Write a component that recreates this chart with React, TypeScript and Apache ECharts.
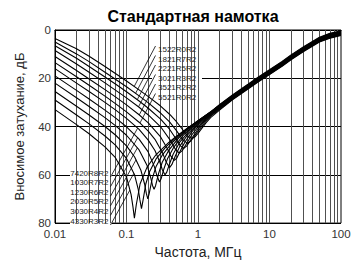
import React, { useEffect, useRef } from "react";
import * as echarts from "echarts";

type Pt = [number, number];

const chartTitle = "Стандартная намотка";
const xName = "Частота, МГц";
const yName = "Вносимое затухание, дБ";
const xTicks = [0.01, 0.1, 1, 10, 100];
const yTicks = [0, 20, 40, 60, 80];
const gridFreqs = [
  0.02, 0.03, 0.04, 0.05, 0.06, 0.07, 0.08, 0.09, 0.1,
  0.2, 0.3, 0.4, 0.5, 0.6, 0.7, 0.8, 0.9, 1,
  2, 3, 4, 5, 6, 7, 8, 9, 10,
  20, 30, 40, 50, 60, 70, 80, 90,
];

const topLabels = ["1522R0R2", "1821R7R2", "2221R5R2", "3021R3R2", "3521R2R2", "5521R0R2"];
const bottomLabels = ["7420R8R2", "1030R7R2", "1230R6R2", "2030R5R2", "3030R4R2", "4330R3R2"];

const c0: Pt[] = [[0.01,3.5],[0.02,7.8],[0.03,10.9],[0.05,15.1],[0.07,18.0],[0.1,21.1],[0.15,24.8],[0.2,27.5],[0.3,31.5],[0.4,34.9],[0.5,38.0],[0.6,41.0],[0.71,43.8],[0.816,45.0],[0.914,44.2],[1,42.8],[1.3,38.4],[1.5,36.3],[2,33.2],[3,29.0],[5,24.5],[7,21.5],[10,18.5],[15,15.0],[20,12.3],[30,8.9],[50,5.0],[70,3.4],[100,2.3]];
const c1: Pt[] = [[0.01,5.0],[0.02,9.9],[0.03,13.1],[0.05,17.5],[0.07,20.4],[0.1,23.5],[0.15,27.3],[0.2,30.1],[0.3,34.4],[0.4,38.1],[0.5,41.7],[0.6035,45.2],[0.71,47.0],[0.795,46.0],[1,41.9],[1.3,37.7],[1.5,35.7],[2,32.9],[3,28.8],[5,24.3],[7,21.3],[10,18.3],[15,14.8],[20,12.1],[30,8.7],[50,4.8],[70,3.2],[100,2.1]];
const c2: Pt[] = [[0.01,6.5],[0.02,11.7],[0.03,15.1],[0.05,19.5],[0.07,22.4],[0.1,25.6],[0.15,29.4],[0.2,32.3],[0.3,36.9],[0.4,41.1],[0.505,45.6],[0.568,48.0],[0.631,49.0],[0.694,48.1],[0.789,45.6],[1,41.0],[1.3,37.1],[1.5,35.4],[2,32.5],[3,28.6],[5,24.1],[7,21.1],[10,18.1],[15,14.6],[20,11.9],[30,8.5],[50,4.6],[70,3.0],[100,1.9]];
const c3: Pt[] = [[0.01,8.5],[0.02,14.1],[0.03,17.5],[0.05,21.9],[0.07,24.9],[0.1,28.1],[0.15,32.0],[0.2,35.1],[0.3,40.1],[0.411,45.7],[0.482,49.4],[0.548,51.0],[0.603,50.0],[0.685,47.2],[0.822,43.4],[1,40.1],[1.5,35.0],[2,32.2],[3,28.5],[5,24.0],[7,21.0],[10,18.0],[15,14.5],[20,11.8],[30,8.4],[50,4.5],[70,2.9],[100,1.8]];
const c4: Pt[] = [[0.01,11.0],[0.02,16.8],[0.03,20.3],[0.05,24.7],[0.07,27.7],[0.1,31.0],[0.15,35.1],[0.2,38.4],[0.3,44.3],[0.374,49.2],[0.42,52.4],[0.467,54.0],[0.504,53.1],[0.56,50.3],[0.654,46.5],[0.841,41.8],[1,39.4],[1.5,34.8],[2,32.0],[3,28.3],[5,23.8],[7,20.8],[10,17.8],[15,14.3],[20,11.6],[30,8.2],[50,4.3],[70,2.7],[100,1.6]];
const c5: Pt[] = [[0.01,13.5],[0.02,19.4],[0.03,22.9],[0.05,27.4],[0.07,30.5],[0.1,33.9],[0.15,38.2],[0.2,41.8],[0.25,45.3],[0.32,51.0],[0.36,54.8],[0.4,57.0],[0.432,55.7],[0.48,52.3],[0.56,48.0],[0.72,43.3],[1,38.9],[1.5,34.5],[2,31.8],[3,28.1],[5,23.6],[7,20.6],[10,17.6],[15,14.1],[20,11.4],[30,8.0],[50,4.1],[70,2.5],[100,1.4]];
const c6: Pt[] = [[0.01,16.0],[0.02,22.0],[0.03,25.5],[0.05,30.0],[0.07,33.1],[0.1,36.6],[0.15,41.2],[0.2,45.5],[0.25,49.9],[0.293,54.8],[0.317,57.9],[0.345,60.0],[0.366,58.9],[0.397,55.7],[0.449,51.5],[0.552,46.6],[0.759,41.8],[1,38.5],[1.5,34.4],[2,31.6],[3,27.9],[5,23.4],[7,20.4],[10,17.4],[15,13.9],[20,11.2],[30,7.8],[50,3.9],[70,2.3],[100,1.2]];
const c7: Pt[] = [[0.01,19.0],[0.02,25.0],[0.03,28.6],[0.05,33.2],[0.07,36.4],[0.1,40.1],[0.15,45.2],[0.2,50.4],[0.246,56.7],[0.266,60.3],[0.289,63.0],[0.306,61.5],[0.332,57.7],[0.376,53.2],[0.462,48.4],[0.636,43.3],[1,38.2],[1.5,34.2],[2,31.5],[3,27.7],[5,23.2],[7,20.2],[10,17.2],[15,13.7],[20,11.0],[30,7.6],[50,3.7],[70,2.1],[100,1.0]];
const c8: Pt[] = [[0.01,22.0],[0.02,28.1],[0.03,31.7],[0.05,36.3],[0.07,39.6],[0.1,43.6],[0.15,49.7],[0.194,56.1],[0.219,61.4],[0.231,64.4],[0.243,66.0],[0.255,64.5],[0.28,59.6],[0.316,54.8],[0.389,49.9],[0.535,44.8],[0.7,41.6],[1,37.9],[1.5,34.1],[2,31.3],[3,27.6],[5,23.1],[7,20.1],[10,17.1],[15,13.6],[20,10.9],[30,7.5],[50,3.6],[70,2.0],[100,0.9]];
const c9: Pt[] = [[0.01,25.5],[0.02,31.6],[0.03,35.2],[0.05,40.0],[0.07,43.5],[0.1,48.0],[0.13,52.6],[0.159,58.1],[0.179,63.8],[0.189,67.6],[0.1985,70.0],[0.208,67.7],[0.228,61.8],[0.258,56.7],[0.318,51.7],[0.437,46.6],[0.7,41.2],[1,37.7],[1.5,34.0],[2,31.2],[3,27.4],[5,22.9],[7,19.9],[10,16.9],[15,13.4],[20,10.7],[30,7.3],[50,3.4],[70,1.8],[100,0.7]];
const c10: Pt[] = [[0.01,29.0],[0.02,35.2],[0.03,38.9],[0.05,43.9],[0.07,47.7],[0.1,53.2],[0.13,60.1],[0.146,66.0],[0.154,70.4],[0.162,74.0],[0.17,70.7],[0.186,63.8],[0.211,58.6],[0.259,53.4],[0.356,48.4],[0.5,44.4],[0.7,41.0],[1,37.6],[1.5,34.0],[2,31.0],[3,27.2],[5,22.7],[7,19.7],[10,16.7],[15,13.2],[20,10.5],[30,7.1],[50,3.2],[70,1.6],[100,0.5]];
const c11: Pt[] = [[0.01,33.0],[0.02,39.2],[0.03,43.0],[0.05,48.4],[0.07,52.9],[0.1,60.9],[0.116,68.2],[0.123,73.2],[0.129,78.0],[0.137,72.4],[0.155,63.7],[0.194,56.8],[0.258,51.7],[0.387,46.7],[0.5,44.0],[0.7,40.8],[1,37.6],[1.5,33.9],[2,30.9],[3,27.0],[5,22.5],[7,19.5],[10,16.5],[15,13.0],[20,10.3],[30,6.9],[50,3.0],[70,1.4],[100,0.3]];

const curves: Pt[][] = [c0, c1, c2, c3, c4, c5, c6, c7, c8, c9, c10, c11];
const curveNames = [...topLabels, ...bottomLabels];

const FONT = "Liberation Sans, Arial, Helvetica, sans-serif";

function fmtTick(v: number): string {
  return String(Number(v.toPrecision(6)));
}

function rayHit(anchor: number[], dir: number[], pts: number[][]): number[] | null {
  let best = Infinity;
  let bp: number[] | null = null;
  for (let k = 0; k < pts.length - 1; k++) {
    const [x1, y1] = pts[k];
    const [x2, y2] = pts[k + 1];
    const ex = x2 - x1, ey = y2 - y1;
    const den = dir[0] * ey - dir[1] * ex;
    if (Math.abs(den) < 1e-9) continue;
    const wx = x1 - anchor[0], wy = y1 - anchor[1];
    const t = (wx * ey - wy * ex) / den;
    const s = (wx * dir[1] - wy * dir[0]) / den;
    if (t > 0 && s >= 0 && s <= 1 && t < best) {
      best = t;
      bp = [anchor[0] + t * dir[0], anchor[1] + t * dir[1]];
    }
  }
  return bp;
}

export default function App() {
  const ref = useRef<HTMLDivElement>(null);

  useEffect(() => {
    document.body.style.margin = "0";
    const el = ref.current!;
    const chart = echarts.init(el, null, { renderer: "svg" });

    const series: any[] = curves.map((d, i) => ({
      type: "line",
      name: curveNames[i],
      data: d,
      symbol: "none",
      showSymbol: false,
      silent: true,
      z: 5,
      lineStyle: { color: "#000", width: 1.1 },
    }));
    series.push({
      type: "line",
      name: "grid",
      data: [[1, 0]],
      symbol: "none",
      silent: true,
      z: 1,
      lineStyle: { opacity: 0 },
      markLine: {
        silent: true,
        symbol: ["none", "none"],
        label: { show: false },
        lineStyle: { color: "#505050", width: 1, type: "solid" },
        emphasis: { disabled: true },
        data: gridFreqs.map((f) => ({ xAxis: f })),
      },
    });

    chart.setOption({
      animation: false,
      title: {
        text: chartTitle,
        left: 188,
        top: 3,
        textAlign: "center",
        textStyle: { fontSize: 16, fontWeight: "bold", color: "#000", fontFamily: FONT },
      },
      grid: { left: 55, right: 20, top: 30, bottom: 38, show: true, borderColor: "#000", borderWidth: 1, backgroundColor: "transparent" },
      xAxis: {
        type: "log",
        logBase: 10,
        min: xTicks[0],
        max: xTicks[xTicks.length - 1],
        axisLine: { show: true, lineStyle: { color: "#000", width: 1 } },
        axisTick: { show: false },
        splitLine: { show: false },
        axisLabel: { color: "#333", fontSize: 11.5, margin: 5, fontFamily: FONT, formatter: (v: number) => fmtTick(v) },
        name: xName,
        nameLocation: "middle",
        nameGap: 21,
        nameTextStyle: { fontSize: 14, color: "#222", fontFamily: FONT },
      },
      yAxis: {
        type: "value",
        inverse: true,
        min: yTicks[0],
        max: yTicks[yTicks.length - 1],
        interval: yTicks[1] - yTicks[0],
        axisLine: { show: true, lineStyle: { color: "#000", width: 1 } },
        axisTick: { show: false },
        splitLine: { show: true, lineStyle: { color: "#000", width: 1 } },
        axisLabel: { color: "#333", fontSize: 11.5, margin: 4, fontFamily: FONT },
        name: yName,
        nameLocation: "middle",
        nameRotate: 90,
        nameGap: 29,
        nameTextStyle: { fontSize: 13, color: "#222", fontFamily: FONT },
      },
      series,
    });

    const toPx = (p: Pt) => chart.convertToPixel({ xAxisIndex: 0, yAxisIndex: 0 }, p) as number[];
    const graphics: any[] = [];

    graphics.push({ type: "rect", z: 3, silent: true, shape: { x: 152, y: 41, width: 50, height: 64 }, style: { fill: "#fff" } });
    graphics.push({ type: "rect", z: 3, silent: true, shape: { x: 70, y: 167, width: 42, height: 58 }, style: { fill: "#fff" } });

    topLabels.forEach((name, j) => {
      const yc = 49.5 + j * 9.5;
      graphics.push({
        type: "text", z: 6, silent: true, x: 158, y: yc,
        style: { text: name, fill: "#222", fontSize: 8, fontFamily: FONT, align: "left", verticalAlign: "middle" },
      });
      const anchor = [155.5, yc - 3.5];
      const pts = curves[j].map(toPx);
      const hit = rayHit(anchor, [-1, 1.9], pts);
      if (hit) {
        graphics.push({ type: "line", z: 6, silent: true, shape: { x1: anchor[0], y1: anchor[1], x2: hit[0], y2: hit[1] }, style: { stroke: "#000", lineWidth: 0.8 } });
      }
    });

    bottomLabels.forEach((name, j) => {
      const yc = 173 + j * 9.6;
      graphics.push({
        type: "text", z: 6, silent: true, x: 108.5, y: yc,
        style: { text: name, fill: "#222", fontSize: 8, fontFamily: FONT, align: "right", verticalAlign: "middle" },
      });
      const anchor = [110.5, yc + 4];
      const pts = curves[6 + j].map(toPx);
      const hit = rayHit(anchor, [1, -1.8], pts);
      if (hit) {
        graphics.push({ type: "line", z: 6, silent: true, shape: { x1: anchor[0], y1: anchor[1], x2: hit[0], y2: hit[1] }, style: { stroke: "#000", lineWidth: 0.8 } });
      }
    });

    chart.setOption({ graphic: graphics });

    return () => {
      chart.dispose();
    };
  }, []);

  return <div ref={ref} style={{ width: 361, height: 264 }} />;
}
